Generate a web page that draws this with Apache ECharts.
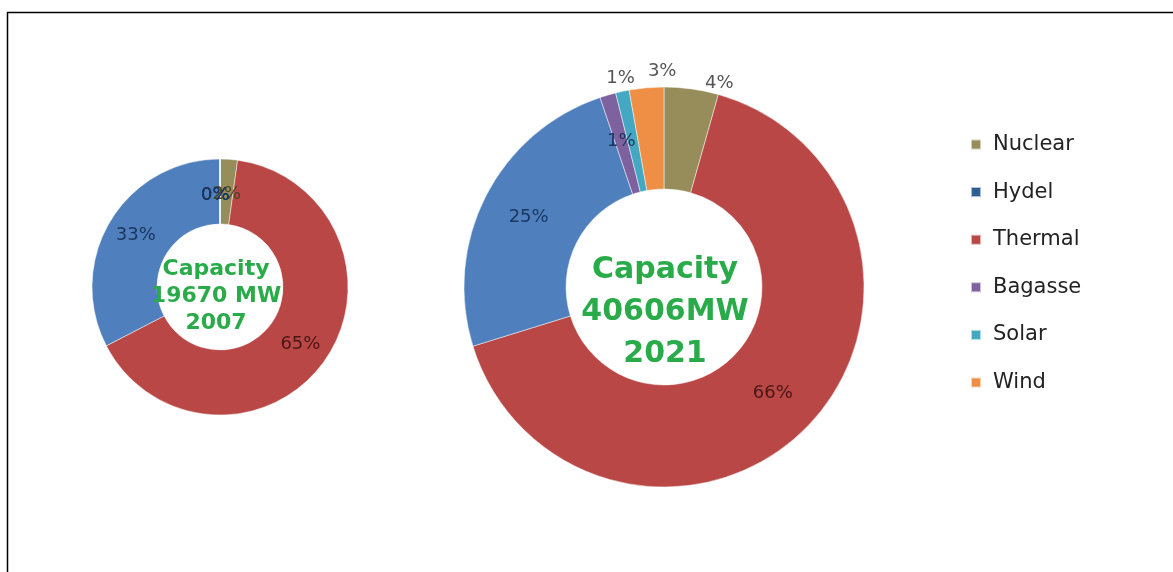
<!DOCTYPE html>
<html>
<head>
<meta charset="utf-8">
<script src="https://cdn.jsdelivr.net/npm/echarts@6/dist/echarts.min.js"></script>
<style>
  html, body { margin: 0; padding: 0; background: #fff; }
  #main { width: 1173px; height: 572px; }
</style>
</head>
<body>
<div id="main"></div>
<script>
  // legend order as shown in the picture
  var legendNames = ['Nuclear', 'Hydel', 'Thermal', 'Bagasse', 'Solar', 'Wind'];
  // slice order, clockwise from 12 o'clock
  var sources = ['Nuclear', 'Thermal', 'Hydel', 'Bagasse', 'Solar', 'Wind'];
  var share2007 = [2.2, 65.2, 32.6, 0, 0, 0];
  var share2021 = [4.4, 66.1, 24.7, 1.3, 1.1, 2.8];
  var caption2007 = 'Capacity\n19670 MW\n2007';
  var caption2021 = 'Capacity\n40606MW\n2021';

  var colors = {
    Nuclear: '#978d5a', Thermal: '#b84745', Hydel: '#4f80bd',
    Bagasse: '#7e62a0', Solar: '#45a8c2', Wind: '#ef8f45'
  };
  var labelColors = {
    Nuclear: '#4a4426', Thermal: '#4a1616', Hydel: '#1b3660',
    Bagasse: '#1b3660', Solar: '#1b3660', Wind: '#1b3660'
  };
  var FONT = 'DejaVu Sans';
  // small slices of 2021 get their label outside the ring
  var outsideItems = ['Nuclear', 'Solar', 'Wind'];
  // nudges so the labels sit where Excel put them
  var nudge2007 = { 0: [0, 6], 3: [-24, 51], 4: [-24, 51], 5: [-24, 51] };
  var nudge2021 = { 0: [7, 6], 4: [20, -1], 5: [36, -4] };

  function buildData(values, withOutside) {
    return sources.map(function (name, i) {
      var item = {
        name: name,
        value: values[i],
        itemStyle: { color: colors[name] },
        label: { color: labelColors[name] }
      };
      if (withOutside && outsideItems.indexOf(name) >= 0) {
        item.label = { position: 'outside', color: '#555555' };
      }
      // zero slices: put the label outside so it is still drawn
      if (!withOutside && values[i] === 0) {
        item.label = { position: 'outside', color: '#1b3660' };
      }
      return item;
    });
  }

  function nudger(table) {
    return function (p) {
      var n = table[p.dataIndex];
      if (n) return { dx: n[0], dy: n[1], hideOverlap: false };
      return { hideOverlap: false };
    };
  }

  var pctLabel = function (p) { return Math.round(p.percent) + '%'; };

  var myChart = echarts.init(document.getElementById('main'), null, { renderer: 'canvas' });
  var option = {
    backgroundColor: '#ffffff',
    animation: false,
    legend: {
      orient: 'vertical',
      left: 965,
      top: 129,
      itemWidth: 10,
      itemHeight: 10,
      itemGap: 26.6,
      icon: 'rect',
      data: legendNames.map(function (n) {
        return { name: n, itemStyle: { color: n === 'Hydel' ? '#2f5e97' : colors[n] } };
      }),
      textStyle: { fontFamily: FONT, fontSize: 21, color: '#222222', padding: [0, 0, 0, 7] }
    },
    graphic: [
      {
        type: 'polyline',
        shape: { points: [[7.5, 572], [7.5, 12.5], [1173, 12.5]] },
        style: { stroke: '#000', lineWidth: 1.5, fill: null }
      },
      {
        type: 'text', x: 216, y: 296, z: 10,
        style: {
          text: caption2007, font: 'bold 22px "DejaVu Sans"', fill: '#2aab4a',
          align: 'center', verticalAlign: 'middle', lineHeight: 27
        }
      },
      {
        type: 'text', x: 665, y: 312, z: 10,
        style: {
          text: caption2021, font: 'bold 30px "DejaVu Sans"', fill: '#2aab4a',
          align: 'center', verticalAlign: 'middle', lineHeight: 42
        }
      }
    ],
    series: [
      {
        name: '2007',
        type: 'pie',
        center: [220, 287],
        radius: [63, 128],
        startAngle: 90,
        avoidLabelOverlap: false,
        itemStyle: { borderColor: 'rgba(255,255,255,0.6)', borderWidth: 0.8 },
        label: { position: 'inside', formatter: pctLabel, fontFamily: FONT, fontSize: 18 },
        labelLine: { show: false, length: 15, length2: 0 },
        labelLayout: nudger(nudge2007),
        data: buildData(share2007, false)
      },
      {
        name: '2021',
        type: 'pie',
        center: [664, 287],
        radius: [98, 200],
        startAngle: 90,
        avoidLabelOverlap: false,
        itemStyle: { borderColor: 'rgba(255,255,255,0.6)', borderWidth: 0.8 },
        label: { position: 'inside', formatter: pctLabel, fontFamily: FONT, fontSize: 18 },
        labelLine: { show: false, length: 12, length2: 0 },
        labelLayout: nudger(nudge2021),
        data: buildData(share2021, true)
      }
    ]
  };
  myChart.setOption(option);
  window.addEventListener('resize', function () { myChart.resize(); });
</script>
</body>
</html>
